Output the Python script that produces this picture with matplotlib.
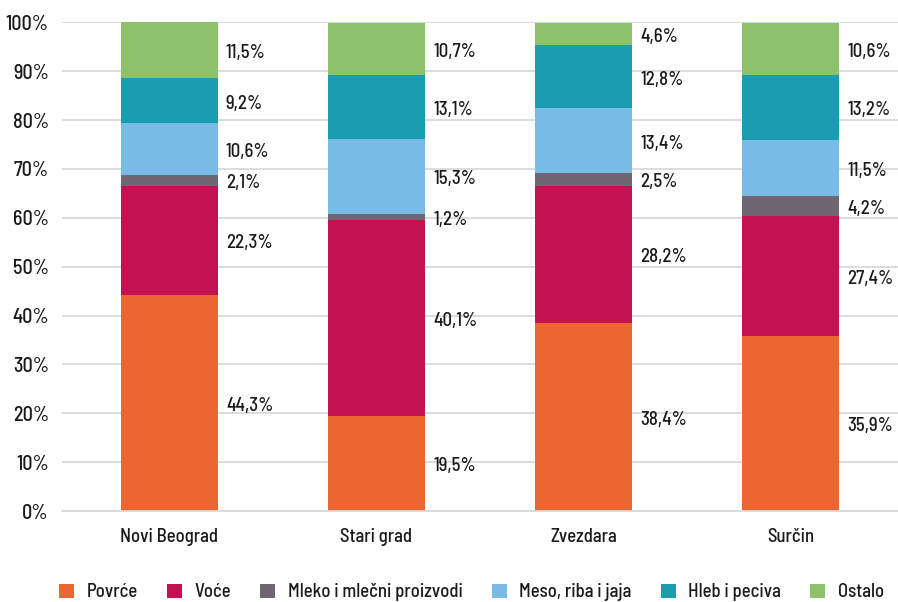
import matplotlib
matplotlib.use("Agg")
import matplotlib.pyplot as plt
import numpy as np
from matplotlib.patches import Patch

plt.rcParams['font.family'] = ['Barlow Semi Condensed', 'DejaVu Sans']
plt.rcParams['font.weight'] = 500

categories = ["Novi Beograd", "Stari grad", "Zvezdara", "Surčin"]
series_names = ["Povrće", "Voće", "Mleko i mlečni proizvodi", "Meso, riba i jaja", "Hleb i peciva", "Ostalo"]
colors = ["#EC6632", "#C41152", "#6E6673", "#77BBE6", "#1A9DB0", "#8DC26B"]

# bar heights (percent) as drawn
povrce = [44.3, 19.5, 38.4, 35.9]
voce = [22.3, 40.1, 28.2, 24.4]
mleko = [2.1, 1.2, 2.5, 4.2]
meso = [10.6, 15.3, 13.4, 11.5]
hleb = [9.2, 13.1, 12.8, 13.2]
ostalo = [11.5, 10.7, 4.6, 10.6]

# data labels as printed
lbl_povrce = ["44,3%", "19,5%", "38,4%", "35,9%"]
lbl_voce = ["22,3%", "40,1%", "28,2%", "27,4%"]
lbl_mleko = ["2,1%", "1,2%", "2,5%", "4,2%"]
lbl_meso = ["10,6%", "15,3%", "13,4%", "11,5%"]
lbl_hleb = ["9,2%", "13,1%", "12,8%", "13,2%"]
lbl_ostalo = ["11,5%", "10,7%", "4,6%", "10,6%"]

yticks = [0, 10, 20, 30, 40, 50, 60, 70, 80, 90, 100]
ytick_labels = [f"{v}%" for v in yticks]

series = [povrce, voce, mleko, meso, hleb, ostalo]
labels = [lbl_povrce, lbl_voce, lbl_mleko, lbl_meso, lbl_hleb, lbl_ostalo]

fig = plt.figure(figsize=(8.98, 6.02), dpi=100)
ax = fig.add_axes([0.069, 0.151, 0.931, 0.812])

x = np.arange(len(categories))
width = 0.469
bottom = np.zeros(len(categories))
txt_color = "#1a1a1a"
fs = 13.5
for vals, col, lbls in zip(series, colors, labels):
    vals = np.array(vals)
    ax.bar(x, vals, width, bottom=bottom, color=col, zorder=2)
    for xi, b, v, l in zip(x, bottom, vals, lbls):
        ax.annotate(l, xy=(xi + width / 2, b + v / 2), xytext=(8, -3),
                    textcoords='offset pixels', ha='left', va='center',
                    fontsize=fs, color=txt_color)
    bottom += vals

ax.set_xlim(-0.519, len(categories) - 0.481)
ax.set_ylim(0, 100)
ax.set_yticks(yticks)
ax.set_yticklabels(ytick_labels)
ax.set_xticks(x)
ax.set_xticklabels(categories)
ax.tick_params(axis='both', length=0, labelsize=fs, colors=txt_color)
ax.tick_params(axis='y', pad=9.5, labelsize=14.5)
ax.tick_params(axis='x', pad=12)
ax.grid(axis='y', color='#d9d9d9', linewidth=1.3, zorder=0)
ax.set_axisbelow(True)
for s in ['top', 'right', 'left']:
    ax.spines[s].set_visible(False)
ax.spines['bottom'].set_color('#d9d9d9')
ax.spines['bottom'].set_linewidth(1.3)

handles = [Patch(facecolor=c, edgecolor='none') for c in colors]
fig.legend(handles, series_names, loc='center', bbox_to_anchor=(0.525, 0.016),
           ncol=6, frameon=False, fontsize=fs, handlelength=0.8, handleheight=0.8,
           handletextpad=0.66, columnspacing=1.56, labelcolor=txt_color)

fig.savefig("out.png", dpi=100)
